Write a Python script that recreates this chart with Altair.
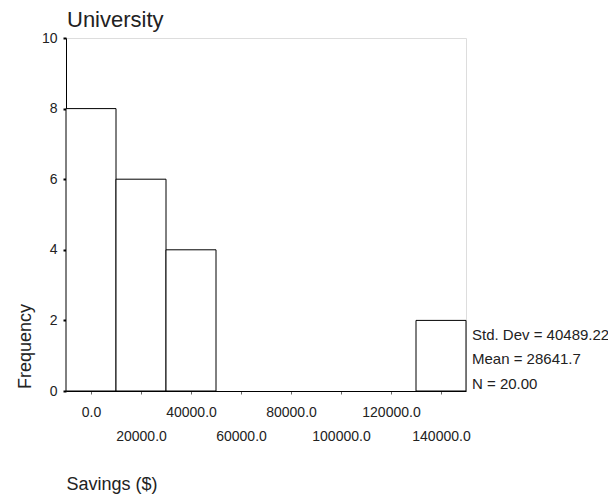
import altair as alt
import pandas as pd

# data
bin_centers = [0, 20000, 40000, 140000]
frequencies = [8, 6, 4, 2]
bin_width = 20000
x_tick_values = [0, 20000, 40000, 60000, 80000, 100000, 120000, 140000]
y_tick_values = [0, 2, 4, 6, 8, 10]
stats_lines = ["Std. Dev = 40489.22", "Mean = 28641.7", "N = 20.00"]
chart_title = "University"

FONT = "Liberation Sans"
INK = "#222222"

df = pd.DataFrame({"center": bin_centers, "freq": frequencies})

x_scale = alt.Scale(domain=[-10000, 150000], nice=False, zero=False)
y_scale = alt.Scale(domain=[0, 10], nice=False)

bars = alt.Chart(df).transform_calculate(
    lo=f"datum.center - {bin_width / 2}",
    hi=f"datum.center + {bin_width / 2}",
).mark_rect(fill="white", stroke="black", strokeWidth=1).encode(
    x=alt.X("lo:Q", scale=x_scale, axis=alt.Axis(
        values=x_tick_values,
        labelExpr="format(datum.value, '.1f')",
        title="Savings ($)",
        titleAnchor="start",
        titleAlign="left",
        titleX=0,
        titleY=93,
        titleBaseline="middle",
        titleFontSize=18,
        titleFontWeight="normal",
        titleFont=FONT,
        titleColor=INK,
        labelFont=FONT,
        labelFontSize=14,
        labelColor=INK,
        labelPadding={"condition": {"test": "datum.value % 40000 == 0", "value": 11}, "value": 35},
        labelBaseline="top",
        tickSize=3,
        tickWidth=1,
        tickColor="#666666",
        domainColor="black",
        grid=False,
        labelFlush=False,
        labelOverlap=False,
    )),
    x2="hi:Q",
    y=alt.Y("freq:Q", scale=y_scale, axis=alt.Axis(
        values=y_tick_values,
        title="Frequency",
        titleAngle=270,
        titleX=-41,
        titleY=308,
        titleAlign="center",
        titleBaseline="middle",
        titleFontSize=18,
        titleFontWeight="normal",
        titleFont=FONT,
        titleColor=INK,
        labelFont=FONT,
        labelFontSize=14,
        labelColor=INK,
        labelPadding=6,
        tickSize=3,
        tickWidth=2,
        tickColor="black",
        domainColor="black",
        grid=False,
    )),
    y2=alt.value(353),
)

stats_layers = [
    alt.Chart(pd.DataFrame({"t": [line]})).mark_text(
        align="left", baseline="middle", font=FONT, fontSize=15, color=INK
    ).encode(text="t:N", x=alt.value(406), y=alt.value(yy))
    for line, yy in zip(stats_lines, [297, 321, 346])
]

title_layer = alt.Chart(pd.DataFrame({"t": [chart_title]})).mark_text(
    align="left", baseline="alphabetic", font=FONT, fontSize=22, color=INK
).encode(text="t:N", x=alt.value(1), y=alt.value(-11))

chart = alt.layer(bars, *stats_layers, title_layer).properties(
    width=400,
    height=353,
    autosize=alt.AutoSizeParams(type="none"),
    padding={"left": 58, "top": 30, "right": 142, "bottom": 105},
).configure_view(stroke="black", strokeWidth=1).configure(background="white")

chart.save("out.html", embed_options={"renderer": "svg", "actions": False})
